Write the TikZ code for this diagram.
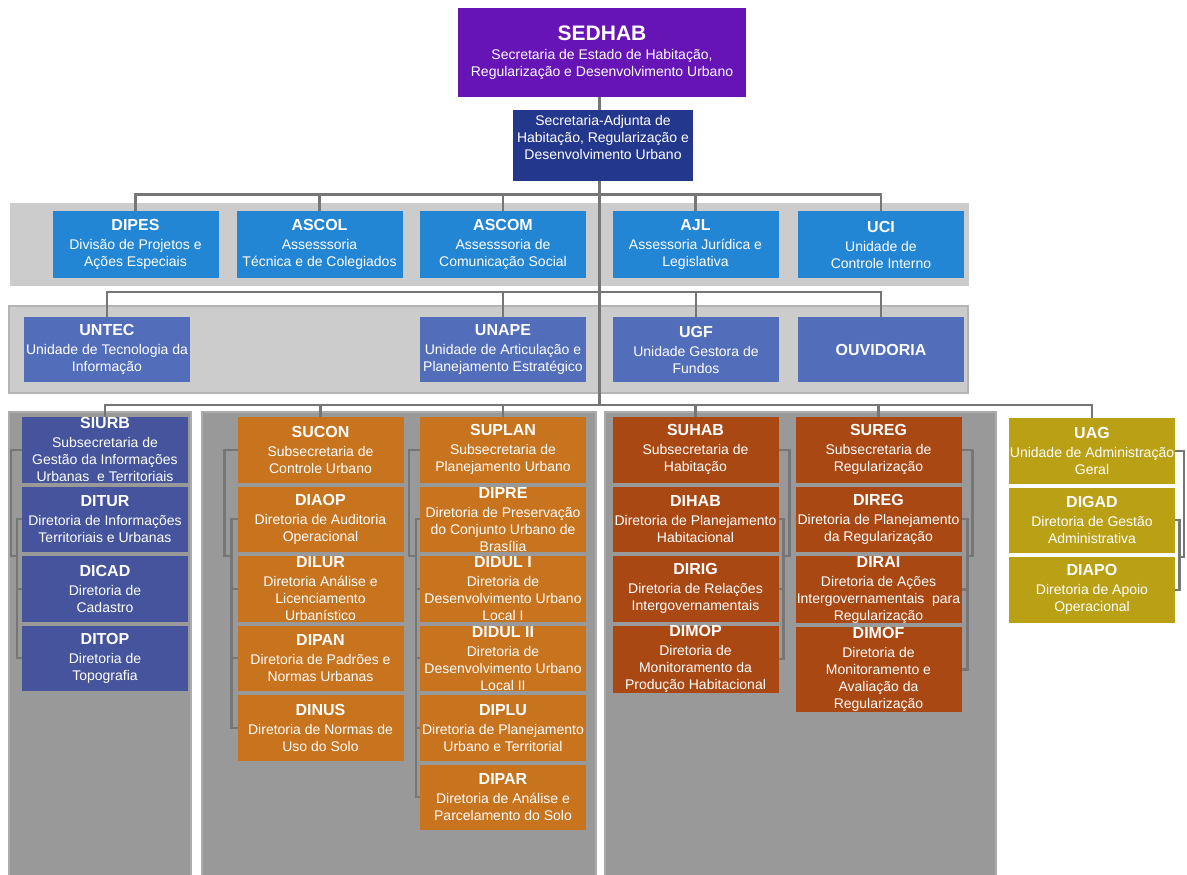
\documentclass[tikz,border=0pt]{standalone}
\usepackage{fontspec}
\setmainfont{Liberation Sans}
\usetikzlibrary{positioning,backgrounds}
\definecolor{roxo}{RGB}{102,20,182}
\definecolor{anil}{RGB}{35,56,140}
\definecolor{azul}{RGB}{35,134,213}
\definecolor{azulmedio}{RGB}{82,110,186}
\definecolor{azulescuro}{RGB}{69,84,156}
\definecolor{laranja}{RGB}{200,115,30}
\definecolor{ferrugem}{RGB}{170,72,20}
\definecolor{ouro}{RGB}{186,160,20}
\definecolor{painel}{RGB}{204,204,204}
\definecolor{painelborda}{RGB}{180,180,180}
\definecolor{fundo}{RGB}{153,153,153}
\definecolor{fundoborda}{RGB}{172,172,172}
\definecolor{fio}{RGB}{118,118,118}
\newcommand{\sigla}[1]{{\fontsize{16}{19}\selectfont\bfseries #1}}
\tikzset{
  txt/.style={text=white,align=center,font=\fontsize{14}{17}\selectfont},
  unit/.style={txt,minimum width=166pt,minimum height=65.5pt,inner sep=0pt,outer sep=0pt},
  ass/.style={unit,fill=azul,minimum height=67pt},
  und/.style={unit,fill=azulmedio,minimum height=65pt},
  infor/.style={unit,fill=azulescuro},
  urb/.style={unit,fill=laranja},
  hab/.style={unit,fill=ferrugem},
  adm/.style={unit,fill=ouro},
  link/.style={draw=fio,line width=2.2pt},
}

\begin{document}
\begin{tikzpicture}[x=1pt,y=-1pt,node distance=4pt]
  \useasboundingbox (0,0) rectangle (1187,875);
  % gabinete
  \node[unit,fill=roxo,minimum width=288pt,minimum height=89pt] (sedhab) at (602,52.5)
    {{\fontsize{21}{24}\selectfont\bfseries SEDHAB}\\[2.5pt]Secretaria de Estado de Habitação,\\Regularização e Desenvolvimento Urbano};
  \node[unit,fill=anil,minimum width=180pt,minimum height=71pt,
    label={[txt,yshift=8.5pt]center:{Secretaria-Adjunta de\\Habitação, Regularização e\\Desenvolvimento Urbano}}] (adj) at (603,145.5) {};

  % assessorias
  \node[ass] (dipes) at (135.5,244.5) {\sigla{DIPES}\\[2pt]Divisão de Projetos e\\Ações Especiais};
  \node[ass] (ascol) at (319.5,244.5) {\sigla{ASCOL}\\[2pt]Assesssoria\\Técnica e de Colegiados};
  \node[ass] (ascom) at (503,244.5) {\sigla{ASCOM}\\[2pt]Assesssoria de\\Comunicação Social};
  \node[ass] (ajl) at (695.5,244.5) {\sigla{AJL}\\[2pt]Assessoria Jurídica e\\Legislativa};
  \node[ass] (uci) at (881,244.5) {\sigla{UCI}\\[2pt]Unidade de\\Controle Interno};

  % unidades
  \node[und] (untec) at (107,349.5) {\sigla{UNTEC}\\[2pt]Unidade de Tecnologia da\\Informação};
  \node[und] (unape) at (503,349.5) {\sigla{UNAPE}\\[2pt]Unidade de Articulação e\\Planejamento Estratégico};
  \node[und] (ugf) at (696,349.5) {\sigla{UGF}\\[2pt]Unidade Gestora de\\Fundos};
  \node[und] (ouvidoria) at (881,349.5) {\sigla{OUVIDORIA}};

  % SIURB
  \node[infor,anchor=north] (siurb) at (105,417) {\sigla{SIURB}\\[2pt]Subsecretaria de\\Gestão da Informações\\Urbanas~ e Territoriais};
  \node[infor,below=of siurb] (ditur) {\sigla{DITUR}\\[2pt]Diretoria de Informações\\Territoriais e Urbanas};
  \node[infor,below=of ditur] (dicad) {\sigla{DICAD}\\[2pt]Diretoria de\\Cadastro};
  \node[infor,below=of dicad] (ditop) {\sigla{DITOP}\\[2pt]Diretoria de\\Topografia};

  % SUCON
  \node[urb,anchor=north] (sucon) at (320.5,417) {\sigla{SUCON}\\[2pt]Subsecretaria de\\Controle Urbano};
  \node[urb,below=of sucon] (diaop) {\sigla{DIAOP}\\[2pt]Diretoria de Auditoria\\Operacional};
  \node[urb,below=of diaop] (dilur) {\sigla{DILUR}\\[2pt]Diretoria Análise e\\Licenciamento\\Urbanístico};
  \node[urb,below=of dilur] (dipan) {\sigla{DIPAN}\\[2pt]Diretoria de Padrões e\\Normas Urbanas};
  \node[urb,below=of dipan] (dinus) {\sigla{DINUS}\\[2pt]Diretoria de Normas de\\Uso do Solo};

  % SUPLAN
  \node[urb,anchor=north] (suplan) at (503,417) {\sigla{SUPLAN}\\[2pt]Subsecretaria de\\Planejamento Urbano};
  \node[urb,below=of suplan] (dipre) {\sigla{DIPRE}\\[2pt]Diretoria de Preservação\\do Conjunto Urbano de\\Brasília};
  \node[urb,below=of dipre] (didul1) {\sigla{DIDUL I}\\[2pt]Diretoria de\\Desenvolvimento Urbano\\Local I};
  \node[urb,below=of didul1] (didul2) {\sigla{DIDUL II}\\[2pt]Diretoria de\\Desenvolvimento Urbano\\Local II};
  \node[urb,below=of didul2] (diplu) {\sigla{DIPLU}\\[2pt]Diretoria de Planejamento\\Urbano e Territorial};
  \node[urb,below=of diplu] (dipar) {\sigla{DIPAR}\\[2pt]Diretoria de Análise e\\Parcelamento do Solo};

  % SUHAB
  \node[hab,anchor=north] (suhab) at (695.5,417) {\sigla{SUHAB}\\[2pt]Subsecretaria de\\Habitação};
  \node[hab,below=of suhab] (dihab) {\sigla{DIHAB}\\[2pt]Diretoria de Planejamento\\Habitacional};
  \node[hab,below=of dihab] (dirig) {\sigla{DIRIG}\\[2pt]Diretoria de Relações\\Intergovernamentais};
  \node[hab,below=of dirig] (dimop) {\sigla{DIMOP}\\[2pt]Diretoria de\\Monitoramento da\\Produção Habitacional};

  % SUREG
  \node[hab,anchor=north] (sureg) at (878.5,417) {\sigla{SUREG}\\[2pt]Subsecretaria de\\Regularização};
  \node[hab,below=of sureg] (direg) {\sigla{DIREG}\\[2pt]Diretoria de Planejamento\\da Regularização};
  \node[hab,below=of direg] (dirai) {\sigla{DIRAI}\\[2pt]Diretoria de Ações\\Intergovernamentais~ para\\Regularização};
  \node[hab,below=of dirai,minimum height=85pt] (dimof) {\sigla{DIMOF}\\[2pt]Diretoria de\\Monitoramento e\\Avaliação da\\Regularização};

  % UAG
  \node[adm,anchor=north] (uag) at (1092,418) {\sigla{UAG}\\[2pt]Unidade de Administração\\Geral};
  \node[adm,below=of uag] (digad) {\sigla{DIGAD}\\[2pt]Diretoria de Gestão\\Administrativa};
  \node[adm,below=of digad] (diapo) {\sigla{DIAPO}\\[2pt]Diretoria de Apoio\\Operacional};

  \coordinate (tronco) at (599.5,0);
  \coordinate (barra1) at (0,194.5);
  \coordinate (barra2) at (0,292);
  \coordinate (barra3) at (0,405);

  \begin{scope}[on background layer]
    \fill[white] (0,0) rectangle (1187,875);
    % panels
    \fill[painel] (10,203) rectangle (969,286);
    \filldraw[fill=painel,draw=painelborda,line width=2.5pt] (9,306) rectangle (968,393);
    \foreach \a/\b in {9/191,202/596,605/996}
      \filldraw[fill=fundo,draw=fundoborda,line width=1.5pt] (\a,412) rectangle (\b,880);

    % main trunk and bars
    \draw[link] (sedhab.south -| tronco) -- (tronco |- barra3);
    \draw[link] (dipes.north) |- (uci.north |- barra1) -- (uci.north);
    \foreach \n in {ascol,ascom,ajl}
      \draw[link] (\n.north) -- (\n.north |- barra1);
    \draw[link] (untec.north) |- (ouvidoria.north |- barra2) -- (ouvidoria.north);
    \foreach \n in {unape,ugf}
      \draw[link] (\n.north) -- (\n.north |- barra2);
    \draw[link] (siurb.north) |- (uag.north |- barra3) -- (uag.north);
    \foreach \n in {sucon,suplan,suhab,sureg}
      \draw[link] (\n.north) -- (\n.north |- barra3);

    % side brackets, left
    \draw[link] (siurb.west) -- ++(-11,0) |- ([xshift=-5pt]dicad.north west);
    \draw[link] (ditur.west) -- ++(-5,0) |- (ditop.west);
    \draw[link] (dicad.west) -- ++(-5,0);
    \draw[link] (sucon.west) -- ++(-13,0) |- ([xshift=-6pt]dilur.north west);
    \draw[link] (diaop.west) -- ++(-6,0) |- (dinus.west);
    \foreach \n in {dilur,dipan}
      \draw[link] (\n.west) -- ++(-6,0);
    \draw[link] (suplan.west) -- ++(-11,0) |- ([xshift=-4pt]didul1.north west);
    \draw[link] (dipre.west) -- ++(-4,0) |- (dipar.west);
    \foreach \n in {didul1,didul2,diplu}
      \draw[link] (\n.west) -- ++(-4,0);

    % side brackets, right
    \draw[link] (suhab.east) -- ++(11,0) |- ([xshift=5pt]dirig.north east);
    \draw[link] (dihab.east) -- ++(5,0) |- (dimop.east);
    \draw[link] (dirig.east) -- ++(5,0);
    \draw[link] (sureg.east) -- ++(11,0) |- ([xshift=6pt]dirai.north east);
    \draw[link] (direg.east) -- ++(6,0) |- (dimof.east);
    \draw[link] (dirai.east) -- ++(6,0);
    \draw[link] (uag.east) -- ++(9,0) |- ([xshift=4.5pt]diapo.north east);
    \draw[link] (digad.east) -- ++(4.5,0) |- (diapo.east);
  \end{scope}
\end{tikzpicture}
\end{document}
